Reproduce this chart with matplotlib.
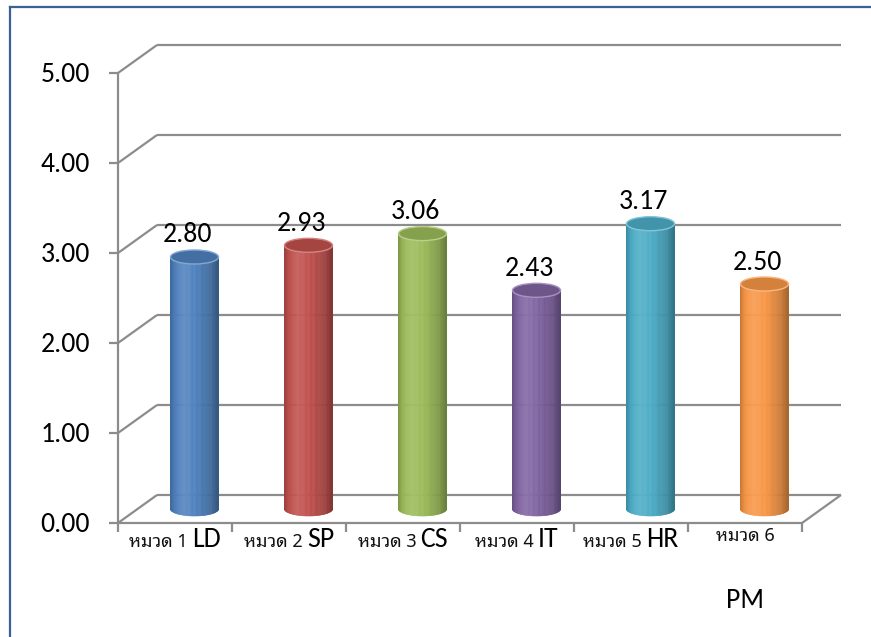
import numpy as np
import matplotlib
matplotlib.use("Agg")
import matplotlib.pyplot as plt
from matplotlib.patches import Ellipse
from matplotlib.collections import PolyCollection
from matplotlib.lines import Line2D
from matplotlib.offsetbox import TextArea, HPacker, VPacker, AnnotationBbox
from matplotlib.colors import to_rgb

# ---- data -------------------------------------------------------------
category_labels = ["หมวด 1 LD", "หมวด 2 SP", "หมวด 3 CS",
                   "หมวด 4 IT", "หมวด 5 HR", "หมวด 6\nPM"]
scores = [2.80, 2.93, 3.06, 2.43, 3.17, 2.50]
y_ticks = [0, 1, 2, 3, 4, 5]
y_tick_labels = ["0.00", "1.00", "2.00", "3.00", "4.00", "5.00"]
bar_colors = ["#4F81BD", "#C0504D", "#9BBB59", "#8064A2", "#4BACC6", "#F79646"]

LATIN = ["Carlito", "Lato", "DejaVu Sans"]
THAI = ["Noto Sans Thai Looped", "Noto Sans Thai", "DejaVu Sans"]
GRID = "#8C8C8C"

# ---- figure and front plane of the 3-D box ----------------------------
W, H, DPI = 871, 637, 100
fig = plt.figure(figsize=(W / DPI, H / DPI), dpi=DPI)
PL, PR, PB, PT = 118, 802, 523, 73          # front plane, pixels
ax = fig.add_axes([PL / W, (H - PB) / H, (PR - PL) / W, (PB - PT) / H])
n = len(scores)
ax.set_xlim(0, n)
ax.set_ylim(0, y_ticks[-1])
ax.axis("off")

px_x = n / (PR - PL)              # data units per pixel
px_y = y_ticks[-1] / (PB - PT)
DX, DY = 39 * px_x, 28 * px_y     # depth of the box

line_kw = dict(color=GRID, lw=1.6, clip_on=False, solid_capstyle="butt", zorder=1)

# back wall gridlines and the left side wall
for v, lab in zip(y_ticks, y_tick_labels):
    ax.plot([DX, n + DX], [v + DY, v + DY], **line_kw)
    ax.plot([0, DX], [v, v + DY], **line_kw)
    ax.plot([-9 * px_x, 0], [v, v], **line_kw)
    ax.annotate(lab, xy=(0, v), xytext=(-28, -2),
                textcoords="offset pixels", ha="right", va="center",
                fontsize=20, family=LATIN, color="black")

# front value axis, floor edges and category ticks
ax.plot([0, 0], [0, y_ticks[-1]], **line_kw)
ax.plot([0, n], [0, 0], **line_kw)
ax.plot([n, n + DX], [0, DY], **line_kw)
for k in range(n + 1):
    ax.plot([k, k], [0, -9 * px_y], **line_kw)


def shade(base, k):
    base = np.array(to_rgb(base))
    if k <= 1:
        return tuple(base * k)
    return tuple(base + (1 - base) * (k - 1))


# cylinders standing in the middle of the box depth
hw = 24 * px_x
ry = 7 * px_y
phis = np.linspace(-np.pi / 2, np.pi / 2, 61)
knots_t = [0.0, 0.08, 0.30, 0.55, 0.85, 1.0]
knots_k = [0.80, 0.95, 1.10, 1.0, 0.82, 0.68]
for i, (v, c) in enumerate(zip(scores, bar_colors)):
    cx = i + 0.5 + DX / 2
    base_y = DY / 2
    top = base_y + v
    polys, cols = [], []
    for a, b in zip(phis[:-1], phis[1:]):
        xa, xb = cx + hw * np.sin(a), cx + hw * np.sin(b)
        ya, yb = base_y - ry * np.cos(a), base_y - ry * np.cos(b)
        polys.append([(xa, ya), (xb, yb), (xb, top), (xa, top)])
        t = (np.sin((a + b) / 2) + 1) / 2
        cols.append(shade(c, np.interp(t, knots_t, knots_k)))
    pc = PolyCollection(polys, facecolors=cols, edgecolors=cols, linewidths=0.4,
                        zorder=3, clip_on=False)
    ax.add_collection(pc)
    cap = Ellipse((cx, top), 2 * hw, 2 * ry, facecolor=shade(c, 0.86),
                  edgecolor=shade(c, 1.3), lw=1.0, zorder=4, clip_on=False)
    ax.add_patch(cap)
    ax.annotate(f"{v:.2f}", xy=(cx, top), xytext=(-7, 22),
                textcoords="offset pixels", ha="center", va="center",
                fontsize=20, family=LATIN, color="black", zorder=5)

# category labels: Thai part in a Thai face, code in the Latin face
for k, lab in enumerate(category_labels):
    head, code = lab.replace("\n", " ").rsplit(" ", 1)
    t_head = TextArea(head, textprops=dict(family=THAI, fontsize=13, color="#111111"))
    t_code = TextArea(code, textprops=dict(family=LATIN, fontsize=20, color="black"))
    if "\n" in lab:
        box = VPacker(children=[t_head, t_code], align="center", pad=0, sep=31)
    else:
        box = HPacker(children=[t_head, t_code], align="baseline", pad=0, sep=3)
    ab = AnnotationBbox(box, (k + 0.5, 0), xybox=(0, -4), boxcoords="offset pixels",
                        box_alignment=(0.5, 1.0), frameon=False, pad=0,
                        annotation_clip=False)
    ax.add_artist(ab)

# chart frame (left and top edges)
frame_kw = dict(color="#3A6195", lw=1.6, transform=fig.transFigure)
fig.add_artist(Line2D([10 / W, 10 / W], [0, 1 - 7 / H], **frame_kw))
fig.add_artist(Line2D([10 / W, 1], [1 - 7 / H, 1 - 7 / H], **frame_kw))

fig.savefig("out.png", dpi=DPI, facecolor="white")
